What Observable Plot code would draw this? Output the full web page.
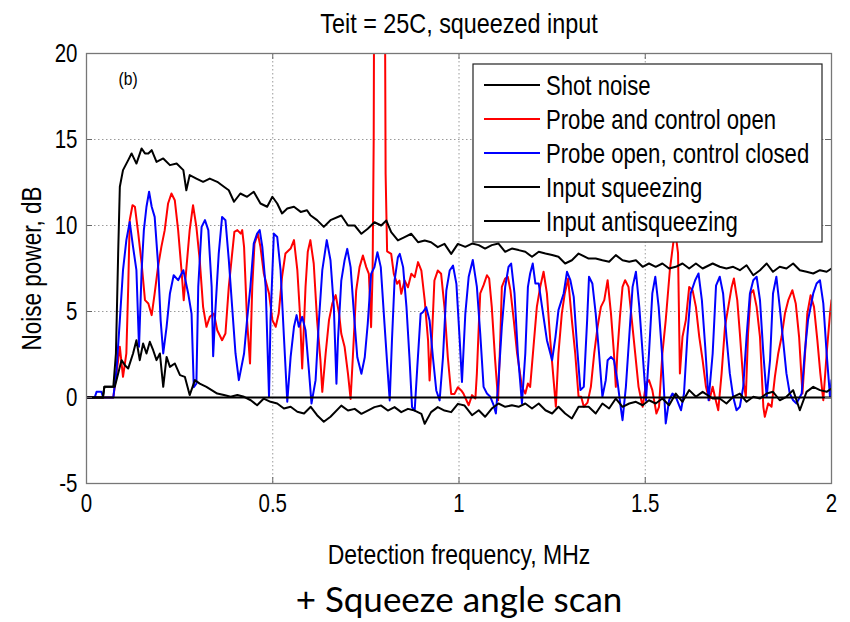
<!DOCTYPE html>
<html>
<head>
<meta charset="utf-8">
<script src="https://cdn.jsdelivr.net/npm/d3@7"></script>
<script src="https://cdn.jsdelivr.net/npm/@observablehq/plot@0.6"></script>
<style>
  html, body { margin: 0; padding: 0; background: #fff; }
  #chart { width: 850px; height: 622px; }
</style>
</head>
<body>
<div id="chart"></div>
<script>
const titleText = "Teit = 25C, squeezed input";
const xLabel = "Detection frequency, MHz";
const yLabel = "Noise power, dB";
const captionText = "+ Squeeze angle scan";
const panelTag = "(b)";

const xTicks = [0, 0.5, 1, 1.5, 2];
const xTickLabels = ["0", "0.5", "1", "1.5", "2"];
const yTicks = [-5, 0, 5, 10, 15, 20];
const yTickLabels = ["-5", "0", "5", "10", "15", "20"];

const seriesNames = ["Shot noise", "Probe and control open", "Probe open, control closed", "Input squeezing", "Input antisqueezing"];
const seriesColors = ["#000000", "#ff0000", "#0000ff", "#000000", "#000000"];

const shotNoise = [[0, 0], [2, 0]];

const probeControlOpen = [
[0,0],[0.072,0],[0.085,2.17],[0.0895,2.95],[0.098,1.2],[0.107,2.56],[0.112,6.43],[0.116,10.31],[0.1235,11.18],[0.13,11.09],[0.139,9.53],[0.148,7.79],[0.157,5.66],[0.166,5.47],[0.175,4.79],[0.183,6.05],[0.192,7.6],[0.201,8.76],[0.21,9.73],[0.219,11.28],[0.228,11.86],[0.237,11.47],[0.246,9.73],[0.255,7.4],[0.261,5.66],[0.2685,7.6],[0.277,9.73],[0.286,11.18],[0.295,9.92],[0.304,7.98],[0.313,5.27],[0.322,4.11],[0.331,4.69],
[0.342,4.88],[0.351,3.91],[0.364,3.33],[0.373,3.72],[0.382,6.43],[0.391,8.37],[0.397,9.63],[0.405,9.73],[0.414,9.53],[0.418,9.73],[0.423,8.76],[0.431,4.5],[0.439,1.98],[0.445,6.43],[0.451,8.95],[0.46,9.53],[0.467,8.76],[0.476,7.21],[0.49,6.05],[0.499,4.5],[0.508,4.11],[0.516,4.88],[0.525,7.02],[0.534,8.37],[0.548,8.66],[0.557,9.15],[0.566,7.4],[0.573,4.88],[0.579,1.69],[0.588,6.43],[0.594,8.47],[0.601,9.15],[0.61,7.79],[0.619,4.5],[0.628,2.17],[0.633,0.33],[0.642,2.56],[0.651,4.5],[0.66,5.47],[0.669,5.95],[0.678,4.88],
[0.684,3.7],[0.693,2.93],[0.702,1.38],[0.709,-0.08],[0.715,2.34],[0.724,6.22],[0.733,7.58],[0.742,8.26],[0.751,7.58],[0.758,7.19],[0.764,4.09],[0.768,7.19],[0.771,15],[0.773,30],[0.8,30],[0.803,13],[0.807,8.5],[0.818,8.35],[0.825,7.19],[0.834,6.61],[0.84,6.8],[0.845,6.03],[0.854,6.8],[0.863,6.41],[0.872,7.19],[0.881,7.0],[0.89,7.87],[0.899,7.38],[0.908,5.64],[0.917,3.31],[0.921,0.99],[0.927,3.31],[0.934,6.8],[0.943,7.38],[0.952,7.19],[0.961,5.25],[0.97,2.34],[0.979,0.21],[0.988,0.21],[0.997,0.6],
[1.006,0.41],[1.012,0.23],[1.026,-0.45],[1.035,0.14],[1.044,-0.06],[1.048,1.4],[1.053,4.11],[1.057,6.05],[1.066,6.53],[1.075,7.11],[1.081,6.92],[1.088,5.27],[1.097,2.17],[1.105,-0.16],[1.111,3.53],[1.115,6.43],[1.124,6.92],[1.131,7.02],[1.138,6.24],[1.147,4.5],[1.156,2.56],[1.169,0.62],[1.178,0.23],[1.185,0.81],[1.191,0.62],[1.2,2.95],[1.209,5.27],[1.218,6.43],[1.227,7.31],[1.236,6.05],[1.245,3.33],[1.254,1.01],[1.26,-0.54],[1.267,2.56],[1.276,4.88],[1.284,6.05],[1.293,6.92],[1.303,4.5],[1.312,2.56],[1.321,0.04],[1.328,0.04],[1.335,-0.54],
[1.345,-0.3],[1.354,0.62],[1.363,2.56],[1.372,4.11],[1.381,5.27],[1.39,5.66],[1.399,6.82],[1.408,4.88],[1.416,2.56],[1.421,0.62],[1.425,2.56],[1.432,4.69],[1.439,6.43],[1.446,6.82],[1.455,6.43],[1.464,4.5],[1.473,2.56],[1.482,0.62],[1.493,-0.54],[1.502,0.81],[1.51,1.01],[1.519,0.43],[1.53,-0.93],[1.537,-0.54],[1.546,2.56],[1.555,4.5],[1.566,7.4],[1.575,8.95],[1.581,9.6],[1.588,8.4],[1.593,1.4],[1.6,3.53],[1.609,4.5],[1.618,6.43],[1.627,6.24],[1.636,5.27],[1.645,3.53],[1.654,2.17],[1.663,0.62],[1.672,-0.16],[1.681,0.62],
[1.687,0.04],[1.696,-0.74],[1.705,1.4],[1.714,4.11],[1.723,5.27],[1.732,6.43],[1.738,6.92],[1.747,5.66],[1.754,3.72],[1.763,1.01],[1.77,0.04],[1.776,3.72],[1.783,6.05],[1.79,6.24],[1.799,5.27],[1.808,3.53],[1.817,-0.54],[1.821,-1.12],[1.83,-0.35],[1.839,-0.54],[1.848,1.2],[1.857,2.56],[1.866,3.53],[1.875,4.88],[1.884,5.66],[1.895,6.24],[1.904,5.47],[1.913,3.53],[1.922,0.23],[1.929,2.56],[1.935,4.88],[1.944,5.95],[1.953,5.27],[1.962,3.33],[1.97,1.4],[1.978,-0.16],[1.987,2.56],[1.996,4.88],[2.0,5.66]
];

const probeOpenControlClosed = [
[0,0],[0.022,0],[0.027,0.33],[0.04,0.33],[0.045,0],[0.072,0],[0.0805,1.59],[0.0895,4.5],[0.098,7.4],[0.107,9.15],[0.116,10.21],[0.125,8.76],[0.134,7.4],[0.141,2.95],[0.148,7.4],[0.154,9.73],[0.161,11.09],[0.168,11.96],[0.175,11.09],[0.183,10.5],[0.192,7.79],[0.199,4.5],[0.206,2.56],[0.215,4.11],[0.224,6.05],[0.234,7.11],[0.246,6.82],[0.26,7.4],[0.273,6.05],[0.282,4.88],[0.288,0.6],[0.295,0.8],[0.3,6.43],[0.309,9.92],[0.318,10.31],[0.327,9.73],[0.336,6.43],
[0.34,2.4],[0.346,5.08],[0.355,8.37],[0.364,10.5],[0.373,10.31],[0.382,8.0],[0.391,5.27],[0.4,2.56],[0.409,1.01],[0.423,2.56],[0.431,4.5],[0.44,6.43],[0.449,8.95],[0.458,9.53],[0.465,9.73],[0.472,8.76],[0.481,6.43],[0.49,0.04],[0.494,4.5],[0.503,9.53],[0.512,9.33],[0.521,7.4],[0.53,3.53],[0.539,-0.25],[0.548,2.36],[0.557,4.11],[0.564,4.79],[0.57,4.11],[0.579,4.69],[0.588,3.91],[0.597,1.59],[0.604,-0.35],[0.615,1.01],[0.624,4.5],[0.633,7.4],[0.645,9.15],[0.655,7.98],[0.664,5.27],[0.671,0.8],
[0.675,3.31],[0.684,6.8],[0.693,8.0],[0.7,8.64],[0.709,7.58],[0.718,4.86],[0.727,2.34],[0.738,1.38],[0.747,2.34],[0.755,4.28],[0.764,7.19],[0.773,7.58],[0.781,8.45],[0.79,7.58],[0.8,4.28],[0.809,1.38],[0.814,-0.17],[0.82,3.31],[0.827,6.8],[0.836,8.16],[0.841,8.35],[0.85,7.58],[0.859,5.25],[0.867,2.34],[0.874,-0.56],[0.881,-0.76],[0.888,1.75],[0.897,4.86],[0.903,4.96],[0.912,5.25],[0.921,4.48],[0.93,2.34],[0.939,0.41],[0.948,-0.17],[0.957,2.34],[0.966,6.22],[0.975,7.38],[0.984,7.67],[0.993,6.61],[1.002,3.31],[1.008,0.9],
[1.017,4.88],[1.026,7.02],[1.037,8.0],[1.048,6.43],[1.057,3.72],[1.066,0.62],[1.075,0.23],[1.084,0.04],[1.093,-0.45],[1.099,-0.93],[1.106,1.01],[1.115,4.11],[1.124,6.43],[1.133,7.6],[1.14,7.79],[1.149,6.05],[1.158,2.56],[1.169,-0.35],[1.178,2.56],[1.185,6.43],[1.191,7.21],[1.198,7.79],[1.205,6.63],[1.214,6.63],[1.223,5.27],[1.236,3.33],[1.25,2.17],[1.259,3.53],[1.267,5.08],[1.281,6.05],[1.29,7.31],[1.299,6.82],[1.308,5.85],[1.317,2.95],[1.326,0.43],[1.335,0.62],[1.344,4.5],
[1.349,7.02],[1.358,6.63],[1.367,4.88],[1.376,2.56],[1.385,0.04],[1.394,1.01],[1.399,2.17],[1.408,2.36],[1.416,2.17],[1.425,1.01],[1.434,-0.54],[1.439,-1.32],[1.448,0.62],[1.457,3.53],[1.466,6.43],[1.475,7.31],[1.484,5.27],[1.493,2.56],[1.502,-0.16],[1.51,2.56],[1.519,6.05],[1.527,7.02],[1.536,5.27],[1.545,2.56],[1.555,-1.51],[1.564,-0.16],[1.573,0.23],[1.582,0.04],[1.596,-0.74],[1.604,0.23],[1.613,3.53],[1.622,6.05],[1.634,6.82],[1.643,7.21],[1.652,5.66],[1.661,2.95],[1.67,-0.16],[1.681,2.56],
[1.69,6.5],[1.7,7.02],[1.709,6.05],[1.718,3.53],[1.727,1.4],[1.736,0.04],[1.745,-0.74],[1.754,-0.54],[1.763,0.62],[1.772,3.53],[1.781,6.05],[1.79,6.82],[1.799,7.02],[1.808,5.66],[1.817,2.56],[1.826,0.04],[1.835,2.17],[1.843,6.05],[1.852,7.02],[1.861,5.27],[1.87,3.33],[1.879,1.4],[1.888,0.23],[1.897,-0.16],[1.906,-0.35],[1.92,0.23],[1.928,2.56],[1.937,4.5],[1.951,6.05],[1.96,6.63],[1.969,6.82],[1.978,5.47],[1.987,2.56],[1.996,0.04],[2.0,1.01]
];

const inputSqueezing = [
[0,0],[0.044,0],[0.048,0.62],[0.076,0.62],[0.085,1.4],[0.094,2.17],[0.103,1.88],[0.112,1.69],[0.125,2.56],[0.134,3.33],[0.143,2.17],[0.152,3.14],[0.161,2.56],[0.17,3.24],[0.179,2.75],[0.188,2.17],[0.197,2.56],[0.206,0.62],[0.215,2.36],[0.224,1.78],[0.237,1.98],[0.251,1.3],[0.264,1.2],[0.277,0.14],[0.291,1.01],[0.304,0.81],[0.322,0.62],[0.336,0.43],
[0.351,0.23],[0.369,0.14],[0.387,0.04],[0.405,0.14],[0.423,0.04],[0.441,-0.16],[0.458,-0.45],[0.476,-0.06],[0.494,-0.25],[0.512,-0.35],[0.53,-0.64],[0.548,-0.54],[0.566,-0.83],[0.584,-0.93],[0.602,-0.54],[0.619,-1.03],[0.637,-1.41],[0.655,-1.12],
[0.684,-0.47],[0.702,-0.76],[0.72,-0.66],[0.738,-0.95],[0.755,-0.76],[0.773,-0.56],[0.791,-0.47],[0.809,-0.76],[0.827,-0.56],[0.845,-0.85],[0.863,-0.66],[0.881,-0.76],[0.899,-0.95],[0.908,-1.53],[0.925,-0.85],[0.943,-0.56],[0.961,-0.76],[0.979,-0.85],[0.997,-0.37],[1.015,-0.47],
[1.035,-1.03],[1.053,-0.74],[1.07,-1.12],[1.088,-0.64],[1.106,-0.35],[1.124,-0.54],[1.142,-0.45],[1.16,-0.54],[1.178,-0.35],[1.196,-0.64],[1.214,-0.35],[1.232,-0.74],[1.25,-0.93],[1.267,-0.54],[1.285,-0.93],[1.303,-1.22],[1.321,-0.54],[1.348,-0.54],
[1.367,-0.93],[1.385,-0.35],[1.403,-0.64],[1.421,-0.06],[1.439,-0.54],[1.457,-0.35],[1.475,-0.25],[1.493,-0.45],[1.51,-0.16],[1.528,-0.35],[1.546,-0.06],[1.564,-0.45],[1.582,0.23],[1.6,-0.25],[1.618,0.43],[1.636,0.04],[1.654,0.33],[1.681,-0.06],
[1.7,-0.06],[1.718,-0.35],[1.736,0.04],[1.754,0.23],[1.772,-0.25],[1.79,0.04],[1.808,-0.06],[1.826,0.23],[1.843,0.33],[1.861,-0.16],[1.879,0.04],[1.897,0.43],[1.915,-0.74],[1.933,0.33],[1.951,0.62],[1.969,0.43],[1.987,0.33],[2.0,0.52]
];

const inputAntisqueezing = [
[0,0],[0.044,0],[0.048,0.62],[0.072,0.62],[0.079,2.56],[0.085,8.37],[0.0895,12.25],[0.098,13.22],[0.112,13.8],[0.121,14.19],[0.134,13.6],[0.148,14.48],[0.157,14.19],[0.166,14.19],[0.175,14.38],[0.188,13.7],[0.206,13.9],[0.224,13.51],[0.242,13.6],[0.26,13.22],[0.268,12.05],[0.277,12.93],[0.295,12.73],[0.313,12.54],[0.331,12.73],
[0.351,12.54],[0.369,12.25],[0.382,12.05],[0.396,11.38],[0.413,11.86],[0.431,11.67],[0.449,11.96],[0.467,11.28],[0.485,11.09],[0.499,11.67],[0.512,11.28],[0.525,10.7],[0.539,10.99],[0.557,11.09],[0.575,10.79],[0.592,10.89],[0.601,10.6],[0.619,10.31],[0.637,9.92],[0.655,10.31],
[0.684,10.58],[0.702,10.0],[0.72,10.0],[0.738,9.52],[0.755,9.81],[0.773,10.19],[0.791,10.0],[0.805,10.29],[0.818,9.61],[0.836,9.13],[0.854,9.32],[0.872,9.52],[0.89,9.03],[0.908,9.13],[0.925,9.03],[0.943,8.74],[0.961,8.93],[0.979,8.35],[0.997,8.93],
[1.017,8.76],[1.035,8.95],[1.053,8.86],[1.07,8.66],[1.088,8.86],[1.106,8.95],[1.124,8.47],[1.142,8.66],[1.16,8.57],[1.178,8.47],[1.196,8.18],[1.214,8.47],[1.232,8.37],[1.25,8.28],[1.267,8.18],[1.285,7.79],[1.303,7.98],[1.321,8.37],[1.348,8.08],
[1.367,8.08],[1.385,7.98],[1.403,7.89],[1.421,8.28],[1.439,7.98],[1.457,7.89],[1.475,7.98],[1.493,7.6],[1.51,7.79],[1.528,7.6],[1.546,7.79],[1.564,7.5],[1.582,7.6],[1.6,7.79],[1.618,7.5],[1.636,7.79],[1.654,7.5],[1.681,7.79],
[1.7,7.6],[1.718,7.5],[1.736,7.6],[1.754,7.4],[1.772,7.69],[1.79,7.11],[1.808,7.4],[1.826,7.79],[1.843,7.31],[1.861,7.6],[1.879,7.5],[1.897,7.79],[1.915,7.4],[1.933,7.31],[1.951,7.21],[1.969,7.4],[1.987,7.31],[2.0,7.5]
];

const seriesData = [shotNoise, probeControlOpen, probeOpenControlClosed, inputSqueezing, inputAntisqueezing];

const FONT = '"Liberation Sans", Arial, sans-serif';
const CAPTION_FONT = 'Lato, "Open Sans", sans-serif';
const NARROW = 0.82;
const W = 850, H = 622;
const mL = 86, mR = 19, mT = 53, mB = 139;
const frameW = W - mL - mR, frameH = H - mT - mB;
const tickLen = 6;

function legendMark() {
  return () => {
    const g = d3.create("svg:g");
    const bx = 473, by = 64, bw = 349, bh = 178;
    g.append("rect").attr("x", bx).attr("y", by).attr("width", bw).attr("height", bh)
      .attr("fill", "#fff").attr("stroke", "#222").attr("stroke-width", 1.2);
    seriesNames.forEach((name, i) => {
      const y = by + 21 + i * 34;
      g.append("line").attr("x1", bx + 11).attr("x2", bx + 67).attr("y1", y).attr("y2", y)
        .attr("stroke", seriesColors[i]).attr("stroke-width", 1.8);
      // condensed face emulated with a horizontal scale on the label group
      g.append("g").attr("transform", `translate(${bx + 73},${y}) scale(${NARROW},1)`)
        .append("text").attr("class", "legend-label").attr("x", 0).attr("y", 0).attr("dy", "0.36em")
        .attr("text-anchor", "start")
        .attr("font-family", FONT).attr("font-size", 27).attr("fill", "#000").text(name);
    });
    return g.node();
  };
}

const lineMarks = seriesData.map((d, i) =>
  Plot.line(d, {x: p => p[0], y: p => p[1], stroke: seriesColors[i], strokeWidth: 2, clip: true})
);

const chart = Plot.plot({
  width: W, height: H,
  marginLeft: mL, marginRight: mR, marginTop: mT, marginBottom: mB,
  style: {fontFamily: FONT, fontSize: "25px", color: "#000", background: "#fff"},
  x: {domain: [0, 2]},
  y: {domain: [-5, 20]},
  marks: [
    Plot.gridX({ticks: xTicks.slice(1, -1), stroke: "#9a9a9a", strokeOpacity: 1, strokeDasharray: "1.5,2.5"}),
    Plot.gridY({ticks: yTicks.slice(1, -1), stroke: "#9a9a9a", strokeOpacity: 1, strokeDasharray: "1.5,2.5"}),
    lineMarks[1], lineMarks[2], lineMarks[3], lineMarks[4], lineMarks[0],
    Plot.tickX(xTicks, {x: d => d, insetTop: frameH - tickLen, stroke: "#666"}),
    Plot.tickX(xTicks, {x: d => d, insetBottom: frameH - tickLen, stroke: "#666"}),
    Plot.tickY(yTicks, {y: d => d, insetRight: frameW - tickLen, stroke: "#666"}),
    Plot.tickY(yTicks, {y: d => d, insetLeft: frameW - tickLen, stroke: "#666"}),
    Plot.frame({stroke: "#777", strokeWidth: 1.3}),
    Plot.axisX({ticks: xTicks, tickFormat: (d, i) => xTickLabels[i], tickSize: 0, tickPadding: 11, label: null, fontSize: 25}),
    Plot.axisY({ticks: yTicks, tickFormat: (d, i) => yTickLabels[i], tickSize: 0, tickPadding: 9, label: null, fontSize: 25}),
    Plot.text([titleText], {text: d => d, frameAnchor: "top", dy: -41, fontSize: 28.5, fill: "#000"}),
    Plot.text([xLabel], {text: d => d, frameAnchor: "bottom", dy: 80, fontSize: 28, fill: "#000"}),
    Plot.text([yLabel], {text: d => d, frameAnchor: "left", textAnchor: "middle", dx: -54, rotate: -90, fontSize: 27.5, fill: "#000"}),
    Plot.text([captionText], {text: d => d, frameAnchor: "bottom", dy: 128, fontSize: 35, fontFamily: CAPTION_FONT, fill: "#000"}),
    Plot.text([panelTag], {text: d => d, frameAnchor: "top-left", dx: 32, dy: 18, fontSize: 19, fill: "#000"}),
    legendMark()
  ]
});

document.getElementById("chart").appendChild(chart);

// Emulate the condensed Helvetica of the original figure on Plot's own texts
chart.querySelectorAll("text").forEach(t => {
  if (t.classList.contains("legend-label")) return;
  if (t.closest('[font-family*="Lato"]')) return;
  const len = t.getComputedTextLength();
  if (len > 0) {
    t.setAttribute("textLength", (len * NARROW).toFixed(1));
    t.setAttribute("lengthAdjust", "spacingAndGlyphs");
  }
});
</script>
</body>
</html>
